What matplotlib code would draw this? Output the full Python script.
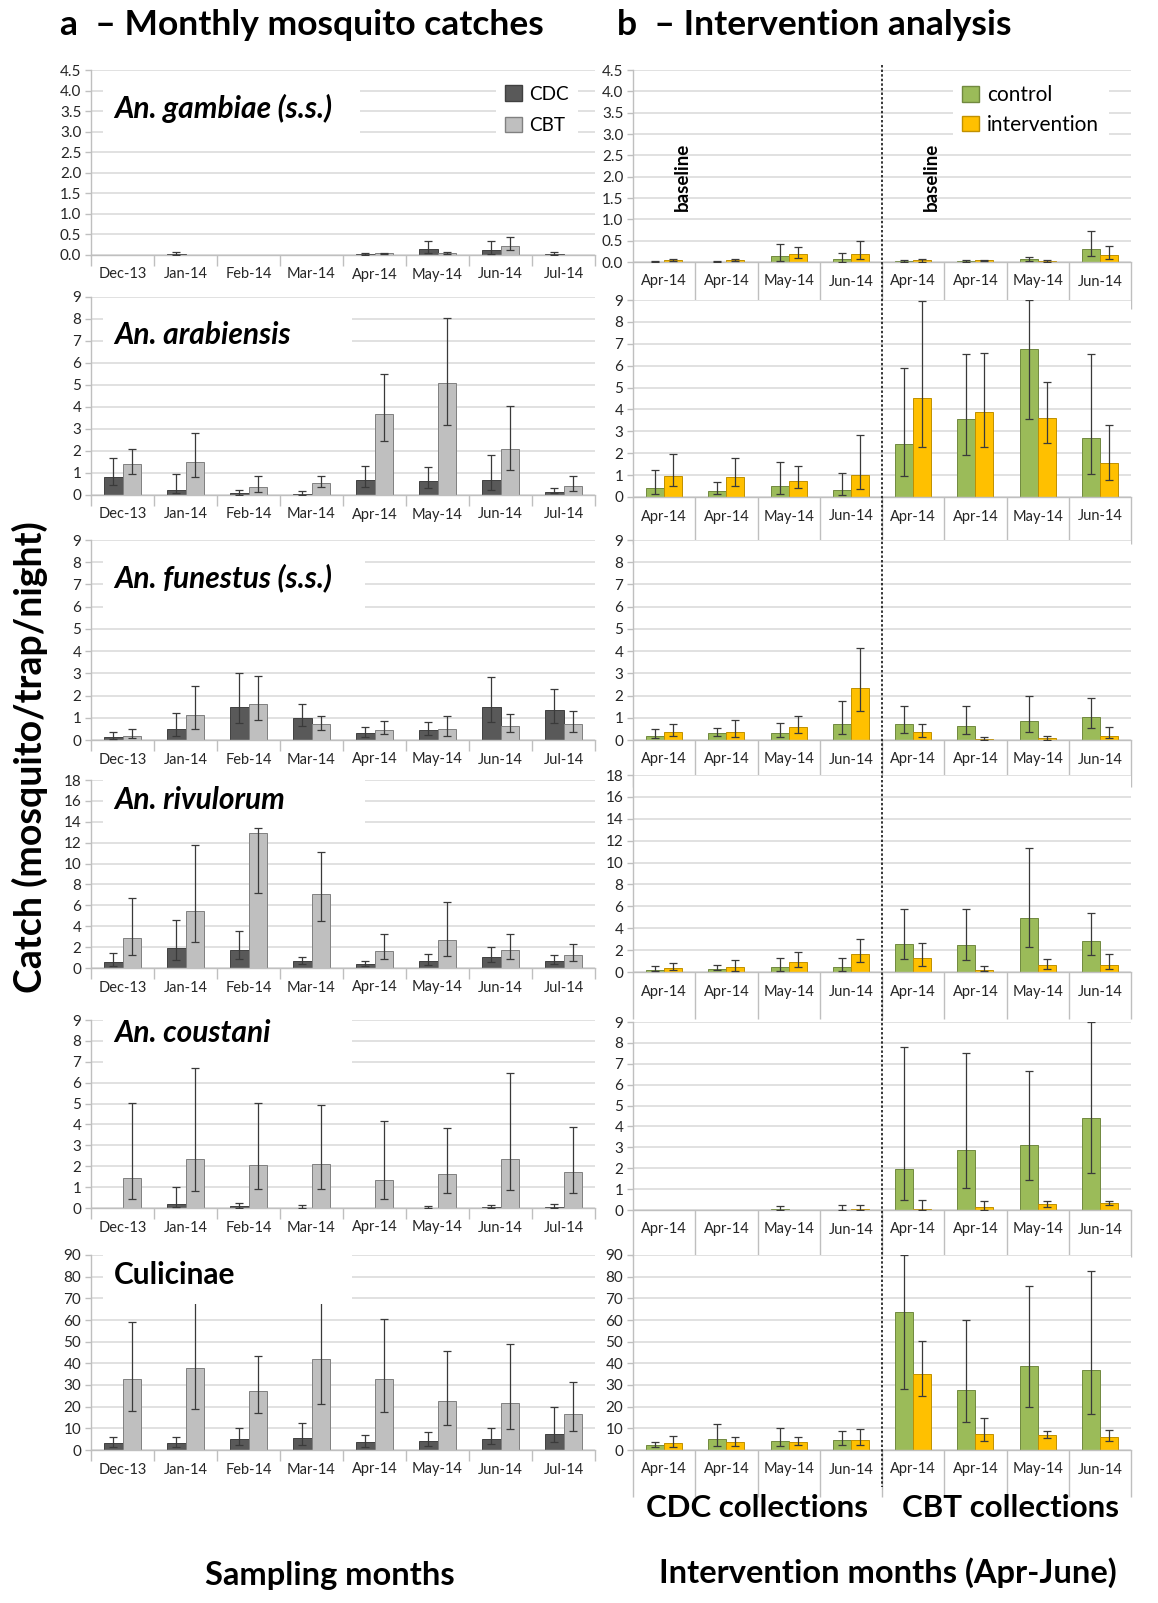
import numpy as np
import matplotlib
matplotlib.use('Agg')
import matplotlib.pyplot as plt
from matplotlib.patches import Patch, Rectangle
from matplotlib.lines import Line2D

plt.rcParams['font.family'] = ['Lato', 'DejaVu Sans']

months = ['Dec-13', 'Jan-14', 'Feb-14', 'Mar-14', 'Apr-14', 'May-14', 'Jun-14', 'Jul-14']
int_months = ['Apr-14', 'Apr-14', 'May-14', 'Jun-14', 'Apr-14', 'Apr-14', 'May-14', 'Jun-14']

# (mean, lower, upper) per category
gam_cdc = [(0, 0, 0), (0.02, 0.0, 0.07), (0, 0, 0), (0, 0, 0), (0.02, 0.0, 0.04), (0.15, 0.05, 0.33), (0.12, 0.02, 0.33), (0.03, 0.0, 0.07)]
gam_cbt = [(0, 0, 0), (0, 0, 0), (0, 0, 0), (0, 0, 0), (0.04, 0.02, 0.05), (0.05, 0.02, 0.08), (0.22, 0.12, 0.45), (0, 0, 0)]
gam_ctl = [(0.01, 0.0, 0.03), (0.01, 0.0, 0.02), (0.13, 0.03, 0.42), (0.06, 0.01, 0.2), (0.02, 0.0, 0.05), (0.02, 0.0, 0.04), (0.06, 0.02, 0.12), (0.3, 0.13, 0.72)]
gam_int = [(0.04, 0.02, 0.07), (0.04, 0.02, 0.07), (0.18, 0.09, 0.35), (0.18, 0.07, 0.5), (0.04, 0.01, 0.08), (0.04, 0.02, 0.05), (0.03, 0.01, 0.05), (0.16, 0.07, 0.37)]

ara_cdc = [(0.8, 0.45, 1.7), (0.25, 0.1, 0.95), (0.08, 0.02, 0.22), (0.05, 0.01, 0.18), (0.68, 0.35, 1.3), (0.62, 0.3, 1.28), (0.68, 0.25, 1.82), (0.15, 0.08, 0.32)]
ara_cbt = [(1.4, 0.95, 2.1), (1.52, 0.82, 2.8), (0.37, 0.15, 0.88), (0.55, 0.35, 0.85), (3.68, 2.45, 5.5), (5.07, 3.18, 8.05), (2.1, 1.12, 4.05), (0.4, 0.2, 0.88)]
ara_ctl = [(0.4, 0.12, 1.22), (0.27, 0.12, 0.7), (0.52, 0.15, 1.62), (0.3, 0.08, 1.1), (2.4, 0.98, 5.9), (3.57, 1.92, 6.52), (6.75, 3.55, 9.0), (2.7, 1.07, 6.52)]
ara_int = [(0.95, 0.5, 1.95), (0.9, 0.5, 1.8), (0.73, 0.4, 1.43), (1.0, 0.37, 2.85), (4.52, 2.3, 8.95), (3.9, 2.3, 6.6), (3.6, 2.48, 5.27), (1.57, 0.78, 3.27)]

fun_cdc = [(0.12, 0.05, 0.35), (0.5, 0.2, 1.22), (1.48, 0.75, 3.0), (1.0, 0.62, 1.6), (0.32, 0.15, 0.57), (0.45, 0.22, 0.8), (1.5, 0.8, 2.82), (1.35, 0.78, 2.3)]
fun_cbt = [(0.2, 0.07, 0.5), (1.12, 0.5, 2.43), (1.6, 0.9, 2.9), (0.7, 0.45, 1.1), (0.45, 0.25, 0.87), (0.5, 0.2, 1.1), (0.62, 0.35, 1.17), (0.7, 0.35, 1.3)]
fun_ctl = [(0.2, 0.08, 0.48), (0.33, 0.2, 0.52), (0.32, 0.12, 0.75), (0.7, 0.27, 1.77), (0.7, 0.3, 1.53), (0.65, 0.27, 1.53), (0.87, 0.38, 2.0), (1.02, 0.55, 1.88)]
fun_int = [(0.37, 0.17, 0.73), (0.38, 0.15, 0.9), (0.57, 0.3, 1.1), (2.32, 1.32, 4.12), (0.35, 0.15, 0.7), (0.05, 0.01, 0.15), (0.08, 0.02, 0.2), (0.2, 0.07, 0.58)]

riv_cdc = [(0.6, 0.2, 1.4), (1.9, 0.8, 4.6), (1.75, 0.9, 3.5), (0.7, 0.35, 1.1), (0.35, 0.15, 0.7), (0.7, 0.3, 1.35), (1.1, 0.55, 2.0), (0.7, 0.35, 1.25)]
riv_cbt = [(2.85, 1.2, 6.7), (5.45, 2.5, 11.8), (12.95, 7.2, 13.4), (7.05, 4.5, 11.1), (1.65, 0.85, 3.25), (2.7, 1.15, 6.3), (1.75, 0.9, 3.3), (1.2, 0.65, 2.3)]
riv_ctl = [(0.2, 0.05, 0.55), (0.3, 0.15, 0.6), (0.45, 0.1, 1.25), (0.45, 0.1, 1.3), (2.55, 1.15, 5.75), (2.45, 1.1, 5.75), (4.95, 2.25, 11.3), (2.85, 1.55, 5.35)]
riv_int = [(0.4, 0.15, 0.85), (0.45, 0.1, 1.1), (0.95, 0.45, 1.8), (1.65, 0.95, 3.0), (1.3, 0.55, 2.65), (0.2, 0.05, 0.55), (0.6, 0.25, 1.2), (0.6, 0.25, 1.6)]

cou_cdc = [(0, 0, 0), (0.18, 0.03, 1.0), (0.08, 0.02, 0.25), (0.02, 0.0, 0.12), (0, 0, 0), (0.02, 0.0, 0.08), (0.05, 0.01, 0.15), (0.05, 0.01, 0.2)]
cou_cbt = [(1.42, 0.42, 5.05), (2.35, 0.82, 6.7), (2.08, 0.9, 5.02), (2.1, 0.93, 4.92), (1.32, 0.42, 4.15), (1.65, 0.72, 3.85), (2.35, 0.88, 6.45), (1.7, 0.73, 3.9)]
cou_ctl = [(0, 0, 0), (0, 0, 0), (0.03, 0.0, 0.2), (0.02, 0.0, 0.22), (1.98, 0.5, 7.82), (2.87, 1.07, 7.5), (3.1, 1.45, 6.65), (4.42, 1.77, 9.0)]
cou_int = [(0, 0, 0), (0, 0, 0), (0, 0, 0), (0.05, 0.0, 0.22), (0.05, 0.0, 0.5), (0.12, 0.02, 0.42), (0.27, 0.15, 0.42), (0.33, 0.22, 0.42)]

cul_cdc = [(3.2, 1.5, 5.8), (3.2, 1.5, 6.2), (5.0, 2.5, 10.3), (5.4, 2.5, 12.5), (3.5, 1.5, 7.0), (4.0, 2.0, 8.5), (5.0, 2.8, 10.0), (7.3, 3.5, 20.0)]
cul_cbt = [(32.7, 18, 59), (37.8, 19, 74), (27.2, 17, 43.5), (41.8, 21.2, 76), (32.7, 17.5, 60.5), (22.7, 11.7, 45.5), (21.5, 9.8, 48.8), (16.8, 8.7, 31.3)]
cul_ctl = [(2.3, 1.3, 3.7), (5.0, 2.0, 12.2), (4.2, 2.0, 10.0), (4.7, 2.5, 9.0), (63.5, 28, 90), (27.5, 12.7, 60), (38.7, 20, 75.7), (36.7, 16.7, 82.8)]
cul_int = [(3.3, 1.5, 6.3), (3.6, 2.0, 6.0), (3.7, 2.2, 6.0), (4.7, 2.5, 9.7), (35.2, 24.8, 50.5), (7.5, 4.0, 14.6), (7.0, 5.5, 9.0), (6.2, 4.2, 9.3)]

species = ['An. gambiae (s.s.)', 'An. arabiensis', 'An. funestus (s.s.)',
           'An. rivulorum', 'An. coustani', 'Culicinae']
left_data = [(gam_cdc, gam_cbt), (ara_cdc, ara_cbt), (fun_cdc, fun_cbt),
             (riv_cdc, riv_cbt), (cou_cdc, cou_cbt), (cul_cdc, cul_cbt)]
right_data = [(gam_ctl, gam_int), (ara_ctl, ara_int), (fun_ctl, fun_int),
              (riv_ctl, riv_int), (cou_ctl, cou_int), (cul_ctl, cul_int)]
ymaxes = [4.5, 9, 9, 18, 9, 90]
ysteps = [0.5, 1, 1, 2, 1, 10]

W, H = 1158, 1603
fig = plt.figure(figsize=(W / 100, H / 100), dpi=100)

# pixel layout of the plot areas (top, bottom)
left_rows = [(70, 255), (297, 495), (540, 740), (780, 968), (1020, 1208), (1255, 1450)]
right_rows = [(70, 262), (300, 497), (540, 740), (775, 972), (1022, 1210), (1255, 1450)]
label_y = [108, 335, 578, 800, 1033, 1275]
# white text boxes behind the species names (x0, x1, y0, y1) in pixels
label_box = [(103, 360, 80, 142), (103, 352, 305, 356), (103, 365, 552, 614),
             (103, 365, 772, 825), (103, 352, 1012, 1065), (103, 352, 1248, 1304)]
LX0, LX1 = 91, 595
RX0, RX1 = 633, 1131

CDC_C, CDC_E = '#595959', '#404040'
CBT_C, CBT_E = '#bfbfbf', '#808080'
CTL_C, CTL_E = '#9bbb59', '#71893f'
INT_C, INT_E = '#ffc000', '#c09000'
BW = 0.29


def px_axes(x0, x1, y0, y1):
    return fig.add_axes([x0 / W, 1 - y1 / H, (x1 - x0) / W, (y1 - y0) / H])


def draw_series(ax, series, off, fc, ec):
    x = np.arange(len(series))
    v = np.array([p[0] for p in series], float)
    lo = np.array([p[1] for p in series], float)
    hi = np.array([p[2] for p in series], float)
    m = v > 0
    ax.bar(x[m] + off, v[m], BW, color=fc, edgecolor=ec, linewidth=0.7, zorder=2)
    m = hi > 0
    ax.errorbar(x[m] + off, v[m], yerr=[v[m] - lo[m], hi[m] - v[m]], fmt='none',
                ecolor='#3a3a3a', elinewidth=0.9, capsize=2.7, capthick=0.9, zorder=3)


def style_axes(ax, labels, ymax, step, sep_len):
    ax.set_xlim(-0.5, 7.5)
    ax.set_ylim(0, ymax)
    ticks = np.arange(0, ymax + step / 2, step)
    ax.set_yticks(ticks)
    if step < 1:
        ax.set_yticklabels(['%.1f' % t for t in ticks])
    else:
        ax.set_yticklabels(['%d' % t for t in ticks])
    ax.set_xticks(np.arange(8))
    ax.set_xticklabels(labels)
    ax.set_xticks(np.arange(-0.5, 8, 1), minor=True)
    ax.tick_params(axis='x', which='major', length=0, pad=9, labelsize=10.5, labelcolor='#262626')
    ax.tick_params(axis='x', which='minor', length=sep_len, width=1, color='#bfbfbf')
    ax.tick_params(axis='y', length=4, width=1, color='#bfbfbf', labelsize=11,
                   labelcolor='#262626', pad=3)
    for s in ['top', 'right']:
        ax.spines[s].set_visible(False)
    for s in ['left', 'bottom']:
        ax.spines[s].set_color('#bfbfbf')
        ax.spines[s].set_linewidth(1)
    ax.set_axisbelow(True)
    ax.yaxis.grid(True, color='#d9d9d9', linewidth=1.1)


for i in range(6):
    # left: monthly catches
    t, b = left_rows[i]
    ax = px_axes(LX0, LX1, t, b)
    cdc, cbt = left_data[i]
    draw_series(ax, cdc, -BW / 2, CDC_C, CDC_E)
    draw_series(ax, cbt, BW / 2, CBT_C, CBT_E)
    style_axes(ax, months, ymaxes[i], ysteps[i], 8)
    bx0, bx1, by0, by1 = label_box[i]
    ax.add_patch(Rectangle(((bx0 - LX0) / (LX1 - LX0), (b - by1) / (b - t)),
                           (bx1 - bx0) / (LX1 - LX0), (by1 - by0) / (b - t),
                           transform=ax.transAxes, fc='white', ec='none', zorder=9,
                           clip_on=False))
    style = 'normal' if species[i] == 'Culicinae' else 'italic'
    ax.text((114 - LX0) / (LX1 - LX0), (b - label_y[i]) / (b - t), species[i],
            transform=ax.transAxes, fontsize=21.5, fontweight='bold', style=style,
            ha='left', va='center', zorder=10)
    if i == 0:
        ax.legend([Patch(fc=CDC_C, ec=CDC_E), Patch(fc=CBT_C, ec=CBT_E)], ['CDC', 'CBT'],
                  loc='upper left', bbox_to_anchor=((496 - LX0) / (LX1 - LX0), (b - 76) / (b - t)),
                  fontsize=13.6, frameon=True, facecolor='white', edgecolor='none',
                  framealpha=1, fancybox=False, handlelength=0.85, handleheight=0.85,
                  handletextpad=0.4, labelspacing=0.75, borderpad=0.5, borderaxespad=0)

    # right: intervention analysis
    t, b = right_rows[i]
    ax = px_axes(RX0, RX1, t, b)
    ctl, itv = right_data[i]
    draw_series(ax, ctl, -BW / 2, CTL_C, CTL_E)
    draw_series(ax, itv, BW / 2, INT_C, INT_E)
    style_axes(ax, int_months, ymaxes[i], ysteps[i], 34)
    if i == 0:
        ax.legend([Patch(fc=CTL_C, ec=CTL_E), Patch(fc=INT_C, ec=INT_E)], ['control', 'intervention'],
                  loc='upper left', bbox_to_anchor=((953 - RX0) / (RX1 - RX0), (b - 76) / (b - t)),
                  fontsize=15, frameon=True, facecolor='white', edgecolor='none',
                  framealpha=1, fancybox=False, handlelength=0.8, handleheight=0.8,
                  handletextpad=0.4, labelspacing=0.45, borderpad=0.45, borderaxespad=0)
        for bx in [1, 5]:
            ax.text(bx - 1 + 0.3, 2.0, 'baseline', rotation=90, fontsize=13.5,
                    fontweight='bold', ha='center', va='center', zorder=10)

# dashed divider between CDC and CBT collections
xd = (RX0 + 4 * (RX1 - RX0) / 8) / W
fig.add_artist(Line2D([xd, xd], [1 - 65 / H, 1 - 1487 / H], color='black', lw=1.1,
                      linestyle=(0, (1.6, 1.4)), transform=fig.transFigure))

fig.text(60 / W, 1 - 25 / H, 'a  \u2013 Monthly mosquito catches', fontsize=25.5,
         fontweight='bold', ha='left', va='center')
fig.text(617 / W, 1 - 25 / H, 'b  \u2013 Intervention analysis', fontsize=25.5,
         fontweight='bold', ha='left', va='center')
fig.text(30 / W, 1 - 757 / H, 'Catch (mosquito/trap/night)', fontsize=27,
         fontweight='bold', rotation=90, ha='center', va='center')
fig.text(330 / W, 1 - 1575 / H, 'Sampling months', fontsize=23.5, fontweight='bold',
         ha='center', va='center')
fig.text(757 / W, 1 - 1508 / H, 'CDC collections', fontsize=22.5, fontweight='bold',
         ha='center', va='center')
fig.text(1011 / W, 1 - 1508 / H, 'CBT collections', fontsize=22.5, fontweight='bold',
         ha='center', va='center')
fig.text(888 / W, 1 - 1573 / H, 'Intervention months (Apr-June)', fontsize=23.5,
         fontweight='bold', ha='center', va='center')

fig.savefig('out.png', dpi=100, facecolor='white')
